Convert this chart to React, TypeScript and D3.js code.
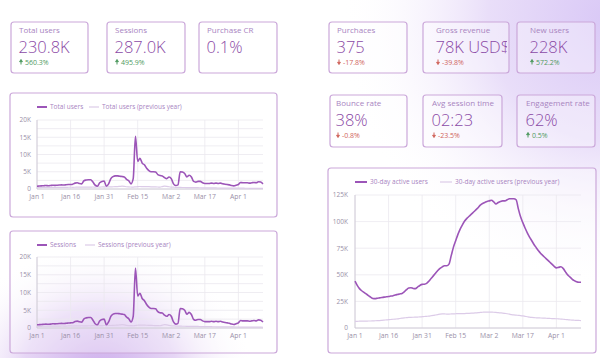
import React from "react";
import * as d3 from "d3";

// KPI tiles
const kpiTitles = ["Total users", "Sessions", "Purchase CR", "Purchaces", "Gross revenue", "New users", "Bounce rate", "Avg session time", "Engagement rate"];
const kpiValues = ["230.8K", "287.0K", "0.1%", "375", "78K USD$", "228K", "38%", "02:23", "62%"];
const kpiChanges = ["560.3%", "495.9%", "", "-17.8%", "-39.8%", "572.2%", "-0.8%", "-23.5%", "0.5%"];
const kpiTrends = ["up", "up", "", "down", "down", "up", "down", "down", "up"];

// time axis
const xTickLabels = ["Jan 1", "Jan 16", "Jan 31", "Feb 15", "Mar 2", "Mar 17", "Apr 1"];
const smallYTicks = [0, 5000, 10000, 15000, 20000];
const bigYTicks = [0, 25000, 50000, 75000, 100000, 125000];

// daily values from Jan 1
const totalUsers = [
  800, 850, 900, 950, 1000, 950, 1000, 1100, 1050, 1100,
  1150, 1200, 1150, 1250, 1300, 1300, 1400, 1700, 1800, 1600,
  1500, 2400, 2600, 2700, 2700, 2000, 1100, 800, 1800, 2200,
  2300, 800, 1500, 3000, 3600, 3800, 3800, 3700, 3600, 3500,
  2800, 2400, 1500, 3000, 15300, 8000, 8900, 7500, 7000, 6000,
  5300, 5000, 5000, 4900, 4200, 3900, 3800, 3300, 3000, 3500,
  3000, 1500, 1000, 1200, 5000, 4900, 4500, 3500, 4000, 3500,
  2200, 2000, 2200, 2200, 1800, 1600, 1600, 1600, 1700, 1600,
  1700, 1600, 1700, 1500, 1400, 1300, 1200, 1000, 900, 1100,
  1300, 1900, 1800, 1800, 1800, 1700, 1800, 1900, 1800, 2100,
  2000, 1500,
];
const totalUsersPrev = [
  400, 380, 420, 450, 430, 460, 440, 470, 450, 480,
  460, 500, 480, 470, 500, 520, 490, 510, 540, 520,
  550, 530, 520, 560, 540, 580, 560, 600, 570, 590,
  620, 600, 640, 610, 650, 680, 700, 760, 820, 780,
  650, 600, 580, 560, 620, 680, 720, 700, 690, 680,
  660, 640, 620, 600, 580, 560, 700, 820, 780, 650,
  560, 520, 480, 460, 450, 440, 430, 420, 410, 400,
  390, 380, 370, 360, 350, 340, 330, 320, 310, 300,
  300, 290, 280, 280, 270, 260, 260, 250, 250, 240,
  240, 230, 230, 220, 220, 210, 210, 200, 200, 190,
  190, 180,
];
const sessions = [
  900, 950, 1000, 1050, 1100, 1050, 1100, 1200, 1150, 1200,
  1250, 1300, 1250, 1350, 1400, 1450, 1500, 1850, 1950, 1750,
  1650, 2600, 2850, 2950, 2950, 2200, 1200, 900, 2000, 2400,
  2500, 900, 1700, 3300, 3900, 4100, 4100, 4000, 3900, 3800,
  3100, 2600, 1700, 3300, 16900, 9000, 9800, 8300, 7700, 6600,
  5900, 5500, 5500, 5400, 4600, 4300, 4200, 3600, 3300, 3800,
  3300, 1700, 1100, 1300, 5500, 5400, 5000, 3900, 4400, 3800,
  2400, 2200, 2400, 2400, 2000, 1800, 1800, 1800, 1900, 1800,
  1900, 1800, 1900, 1700, 1550, 1450, 1350, 1100, 1000, 1200,
  1450, 2100, 2000, 2000, 2000, 1900, 2000, 2100, 2000, 2300,
  2200, 1700,
];
const sessionsPrev = [
  460, 440, 480, 520, 500, 530, 510, 540, 520, 550,
  530, 570, 550, 540, 580, 600, 560, 590, 620, 600,
  630, 610, 600, 640, 620, 670, 640, 690, 660, 680,
  710, 690, 740, 700, 750, 780, 800, 870, 940, 900,
  750, 690, 670, 640, 710, 780, 830, 800, 790, 780,
  760, 740, 710, 690, 670, 640, 800, 940, 900, 750,
  640, 600, 550, 530, 520, 500, 490, 480, 470, 460,
  450, 440, 430, 410, 400, 390, 380, 370, 360, 350,
  340, 330, 320, 320, 310, 300, 300, 290, 290, 280,
  280, 270, 260, 250, 250, 240, 240, 230, 230, 220,
  220, 210,
];
const activeUsers = [
  44000, 40000, 37000, 35000, 33500, 32000, 30500, 29000, 27800, 27600,
  28000, 28300, 28600, 29000, 29300, 29600, 30000, 30400, 31000, 31500,
  32000, 32500, 34000, 36000, 37500, 37800, 37200, 37000, 38500, 40000,
  41000, 41200, 42000, 44000, 46500, 49000, 51500, 54000, 56000, 57500,
  58500, 58500, 60000, 68000, 76000, 82000, 88000, 93000, 97000, 100500,
  103000, 105000, 107000, 109000, 111000, 113000, 115500, 117000, 118000, 119000,
  119500, 120000, 118500, 116500, 118000, 119000, 119500, 119500, 120500, 121500,
  121500, 121500, 120500, 112000, 104500, 99000, 94000, 89500, 85500, 82000,
  78500, 75500, 72500, 70000, 68000, 66000, 64000, 62000, 60000, 58000,
  56500, 57000, 57500, 56000, 53000, 50000, 48000, 46000, 44500, 43500,
  43000, 43000,
];
const activeUsersPrev = [
  6300, 6300, 6400, 6400, 6500, 6500, 6600, 6600, 6700, 6800,
  6900, 7000, 7200, 7400, 7600, 7800, 8000, 8200, 8400, 8600,
  8900, 9200, 9500, 9700, 9900, 10000, 10100, 10200, 10300, 10400,
  10600, 10800, 11000, 11200, 11500, 11800, 12200, 12600, 13000, 13200,
  13200, 13100, 13100, 13200, 13300, 13400, 13500, 13500, 13600, 13600,
  13700, 13800, 13900, 14000, 14200, 14400, 14600, 14800, 15000, 15000,
  15000, 14900, 14800, 14600, 14400, 14200, 14000, 13700, 13400, 13000,
  12600, 12300, 12100, 11900, 11700, 11400, 11000, 10600, 10200, 9900,
  9700, 9600, 9500, 9400, 9300, 9200, 9100, 9000, 8900, 8800,
  8700, 8600, 8400, 8200, 8000, 7800, 7600, 7400, 7300, 7200,
  7100, 7000,
];

const W = 600;
const H = 358;
const FONT = "'Open Sans', sans-serif";
const PURPLE = "#9c55b8";
const PREV = "#dccbe8";
const BORDER = "#cba8da";
const TITLE = "#a884bf";
const VALUE = "#8b4aa6";
const UP = "#4f9a60";
const DOWN = "#d0655c";
const AXIS_TXT = "#9a90a8";
const GRID = "#ebe8ef";

const start = new Date(2023, 0, 1);
const parseTick = d3.timeParse("%b %d %Y");
const fmtK = (v: number) => (v === 0 ? "0" : d3.format("~s")(v).replace("k", "K"));

// card boxes (layout only)
const kpiBoxes = [
  { x: 11, y: 22, w: 77, h: 51, pad: 8 },
  { x: 107, y: 22, w: 78, h: 51, pad: 8 },
  { x: 199, y: 22, w: 78, h: 51, pad: 8 },
  { x: 329, y: 22, w: 78, h: 51, pad: 8 },
  { x: 423, y: 22, w: 86, h: 51, pad: 13 },
  { x: 517, y: 22, w: 78, h: 51, pad: 13 },
  { x: 330, y: 95, w: 77, h: 52, pad: 6 },
  { x: 423, y: 95, w: 79, h: 52, pad: 9 },
  { x: 517, y: 95, w: 78, h: 52, pad: 9 },
];

function Arrow({ x, y, up, color }: any) {
  // small stemmed arrow, y = baseline of text
  const top = y - 5.5;
  const bot = y - 0.5;
  const d = up
    ? `M${x} ${bot}V${top + 2} M${x - 1.4} ${top + 2.2}L${x} ${top}L${x + 1.4} ${top + 2.2}Z`
    : `M${x} ${top}V${bot - 2} M${x - 1.4} ${bot - 2.2}L${x} ${bot}L${x + 1.4} ${bot - 2.2}Z`;
  return <path d={d} stroke={color} strokeWidth={1} fill={color} />;
}

function KpiCard({ i }: { i: number }) {
  const b = kpiBoxes[i];
  const trend = kpiTrends[i];
  const col = trend === "up" ? UP : DOWN;
  return (
    <g>
      <clipPath id={`kc${i}`}>
        <rect x={b.x} y={b.y} width={b.w - 2} height={b.h} />
      </clipPath>
      <rect x={b.x} y={b.y} width={b.w} height={b.h} rx={3} fill="#fff" fillOpacity={0.35} stroke={BORDER} strokeWidth={1.2} />
      <g clipPath={`url(#kc${i})`}>
        <text x={b.x + b.pad} y={b.y + 11} fontSize={8} fill={TITLE}>{kpiTitles[i]}</text>
        <text x={b.x + b.pad - 0.5} y={b.y + 30.5} fontSize={16.5} fontWeight={300} fill={VALUE}>{kpiValues[i]}</text>
      </g>
      {trend && (
        <g>
          <Arrow x={b.x + b.pad + 2} y={b.y + 43} up={trend === "up"} color={col} />
          <text x={b.x + b.pad + 6} y={b.y + 43} fontSize={7} fill={col}>{kpiChanges[i]}</text>
        </g>
      )}
    </g>
  );
}

function LineChart({ box, plot, legendY, legendX, labels, main, prev, yTicks, minor, yLabelX }: any) {
  const dates = main.map((_: number, i: number) => d3.timeDay.offset(start, i));
  const x = d3.scaleTime().domain([start, dates[dates.length - 1]]).range([plot.left, plot.right]);
  const yMax = yTicks[yTicks.length - 1];
  const y = d3.scaleLinear().domain([0, yMax]).range([plot.bottom, plot.top]);
  const line = d3
    .line<number>()
    .x((_, i) => x(dates[i]))
    .y(d => y(d))
    .curve(d3.curveMonotoneX);
  const gridVals = minor ? d3.range(0, yMax + 1, yTicks[1] / 2) : yTicks;
  const ticks = xTickLabels.map(l => ({ l, d: parseTick(l + " 2023") as Date }));
  return (
    <g>
      <rect x={box.x} y={box.y} width={box.w} height={box.h} rx={3} fill="#fff" fillOpacity={0.3} stroke={BORDER} strokeWidth={1.2} />
      {/* legend */}
      <line x1={legendX[0]} x2={legendX[0] + legendX[2]} y1={legendY} y2={legendY} stroke={PURPLE} strokeWidth={2} />
      <text x={legendX[0] + legendX[2] + 3} y={legendY + 2.2} fontSize={6.5} fill={TITLE}>{labels[0]}</text>
      <line x1={legendX[1]} x2={legendX[1] + legendX[2]} y1={legendY} y2={legendY} stroke={PREV} strokeWidth={1.2} />
      <text x={legendX[1] + legendX[2] + 3} y={legendY + 2.2} fontSize={6.5} fill={TITLE}>{labels[1]}</text>
      {/* grid */}
      {gridVals.map((v: number) => (
        <line key={"h" + v} x1={plot.left} x2={plot.right} y1={y(v)} y2={y(v)} stroke={GRID} strokeWidth={0.8} />
      ))}
      {ticks.map(t => (
        <line key={"v" + t.l} x1={x(t.d)} x2={x(t.d)} y1={plot.top} y2={plot.bottom} stroke={GRID} strokeWidth={0.8} />
      ))}
      <line x1={plot.left} x2={plot.left} y1={plot.top} y2={plot.bottom} stroke="#c9c4d0" strokeWidth={0.8} />
      <line x1={plot.left} x2={plot.right} y1={plot.bottom} y2={plot.bottom} stroke="#c9c4d0" strokeWidth={0.8} />
      {yTicks.map((v: number) => (
        <text key={"yl" + v} x={yLabelX} y={y(v) + (v === 0 ? 1.5 : 2.3)} fontSize={6.5} fill={AXIS_TXT} textAnchor="end">{fmtK(v)}</text>
      ))}
      {ticks.map(t => (
        <text key={"xl" + t.l} x={x(t.d)} y={plot.bottom + 9.5} fontSize={6.8} fill={AXIS_TXT} textAnchor="middle">{t.l}</text>
      ))}
      <path d={line(prev) || ""} fill="none" stroke={PREV} strokeWidth={1.2} />
      <path d={line(main) || ""} fill="none" stroke={PURPLE} strokeWidth={1.6} strokeLinejoin="round" />
    </g>
  );
}

export default function App() {
  return (
    <div style={{ position: "fixed", left: 0, top: 0, width: W, height: H, background: "#fff" }}>
      <svg width={W} height={H} style={{ display: "block" }} fontFamily={FONT}>
        <defs>
          <radialGradient id="glowTR" cx={610} cy={20} r={270} gradientUnits="userSpaceOnUse">
            <stop offset="0" stopColor="#d9c8f6" />
            <stop offset="0.45" stopColor="#e9def9" />
            <stop offset="1" stopColor="#ffffff" stopOpacity={0} />
          </radialGradient>
          <radialGradient id="glowBL" cx={100} cy={372} r={140} gradientUnits="userSpaceOnUse" gradientTransform="translate(100 372) scale(1.1 0.9) translate(-100 -372)">
            <stop offset="0" stopColor="#cdaeec" />
            <stop offset="0.5" stopColor="#e6d6f5" />
            <stop offset="1" stopColor="#ffffff" stopOpacity={0} />
          </radialGradient>
        </defs>
        <rect width={W} height={H} fill="#fff" />
        <rect width={W} height={H} fill="url(#glowTR)" />
        <rect width={W} height={H} fill="url(#glowBL)" />

        {kpiTitles.map((_, i) => (
          <KpiCard key={i} i={i} />
        ))}

        <LineChart
          box={{ x: 10, y: 93, w: 267, h: 124 }}
          plot={{ left: 37, right: 263, top: 120, bottom: 189 }}
          legendY={107}
          legendX={[37, 89, 10]}
          labels={["Total users", "Total users (previous year)"]}
          main={totalUsers}
          prev={totalUsersPrev}
          yTicks={smallYTicks}
          minor={true}
          yLabelX={31}
        />
        <LineChart
          box={{ x: 10, y: 231, w: 267, h: 122 }}
          plot={{ left: 37, right: 263, top: 257, bottom: 328 }}
          legendY={245}
          legendX={[37, 85, 10]}
          labels={["Sessions", "Sessions (previous year)"]}
          main={sessions}
          prev={sessionsPrev}
          yTicks={smallYTicks}
          minor={true}
          yLabelX={31}
        />
        <LineChart
          box={{ x: 328, y: 168, w: 268, h: 185 }}
          plot={{ left: 355, right: 581, top: 195, bottom: 328 }}
          legendY={182}
          legendX={[355, 440, 12]}
          labels={["30-day active users", "30-day active users (previous year)"]}
          main={activeUsers}
          prev={activeUsersPrev}
          yTicks={bigYTicks}
          minor={false}
          yLabelX={348}
        />
      </svg>
    </div>
  );
}
